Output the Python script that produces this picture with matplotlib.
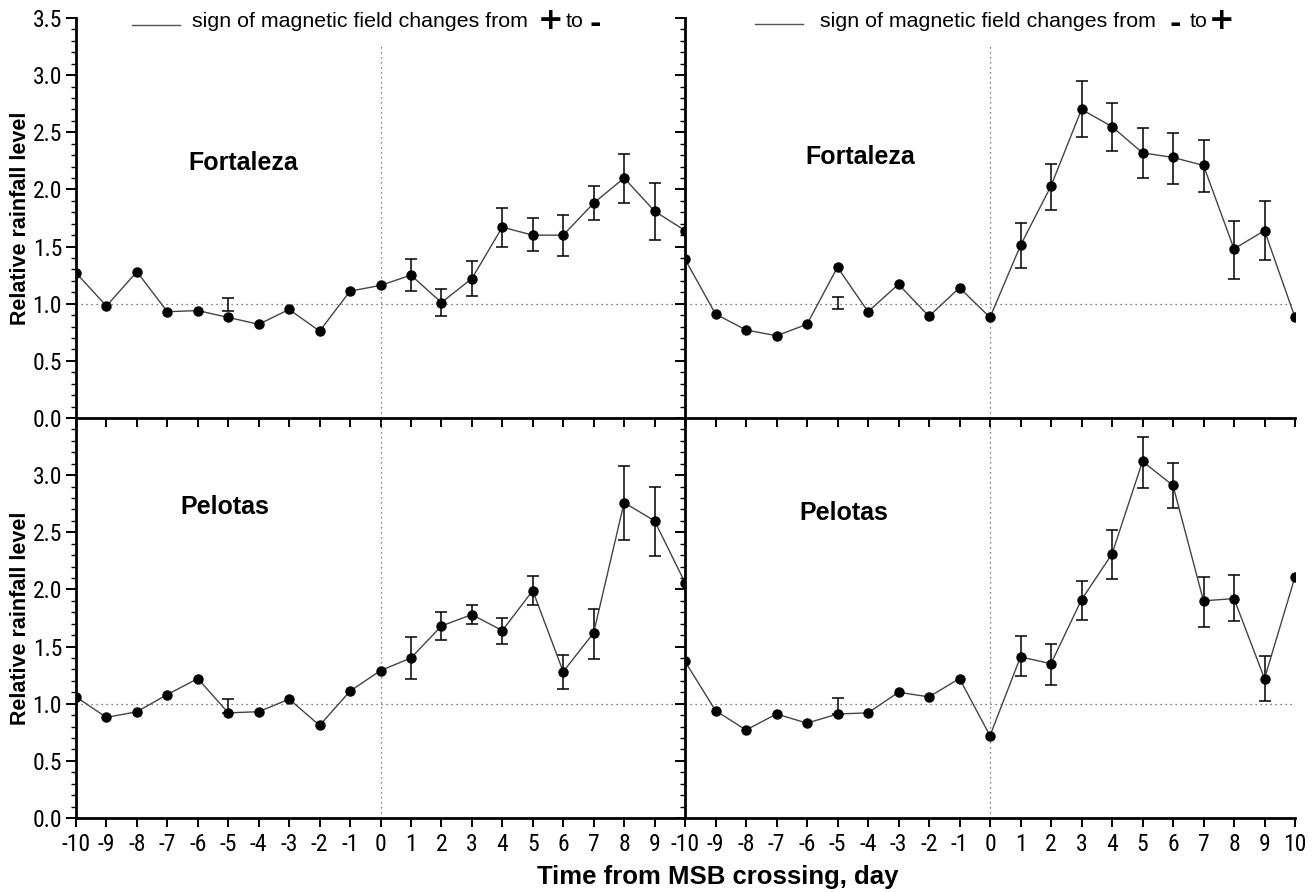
import numpy as np
import matplotlib
matplotlib.use("Agg")
from matplotlib import pyplot as plt
from matplotlib.ticker import MultipleLocator

plt.rcParams["font.family"] = ["Liberation Sans", "DejaVu Sans"]
TICKFONT = ["Roboto Condensed", "Liberation Sans", "DejaVu Sans"]

days = list(range(-10, 11))

# Fortaleza, sign changes + to -
fort_pm = [1.27, 0.98, 1.28, 0.93, 0.94, 0.88, 0.82, 0.95, 0.76, 1.11, 1.16,
           1.25, 1.01, 1.22, 1.67, 1.60, 1.60, 1.88, 2.10, 1.81, 1.64]
fort_pm_lo = [None, None, None, None, None, 0.94, None, None, None, None, None,
              1.11, 0.89, 1.07, 1.50, 1.46, 1.42, 1.73, 1.88, 1.56, None]
fort_pm_hi = [None, None, None, None, None, 1.05, None, None, None, None, None,
              1.39, 1.13, 1.37, 1.84, 1.75, 1.78, 2.03, 2.31, 2.06, None]

# Fortaleza, sign changes - to +
fort_mp = [1.39, 0.91, 0.77, 0.72, 0.82, 1.32, 0.93, 1.17, 0.89, 1.14, 0.88,
           1.51, 2.03, 2.70, 2.55, 2.32, 2.28, 2.21, 1.48, 1.64, 0.88]
fort_mp_lo = [None, None, None, None, None, 0.95, None, None, None, None, None,
              1.31, 1.82, 2.46, 2.34, 2.10, 2.05, 1.98, 1.22, 1.38, None]
fort_mp_hi = [None, None, None, None, None, 1.06, None, None, None, None, None,
              1.71, 2.22, 2.95, 2.76, 2.54, 2.49, 2.43, 1.72, 1.90, None]

# Pelotas, sign changes + to -
pel_pm = [1.06, 0.88, 0.93, 1.08, 1.22, 0.92, 0.93, 1.04, 0.81, 1.11, 1.29,
          1.40, 1.68, 1.78, 1.64, 1.99, 1.28, 1.62, 2.76, 2.60, 2.06]
pel_pm_lo = [None, None, None, None, None, 0.92, None, None, None, None, None,
             1.22, 1.56, 1.70, 1.52, 1.86, 1.13, 1.39, 2.43, 2.29, None]
pel_pm_hi = [None, None, None, None, None, 1.04, None, None, None, None, None,
             1.58, 1.80, 1.86, 1.75, 2.12, 1.43, 1.83, 3.08, 2.90, None]

# Pelotas, sign changes - to +
pel_mp = [1.37, 0.94, 0.77, 0.91, 0.83, 0.91, 0.92, 1.10, 1.06, 1.22, 0.72,
          1.41, 1.35, 1.91, 2.31, 3.12, 2.91, 1.90, 1.92, 1.22, 2.11]
pel_mp_lo = [None, None, None, None, None, 0.91, None, None, None, None, None,
             1.24, 1.16, 1.73, 2.09, 2.89, 2.71, 1.67, 1.72, 1.02, None]
pel_mp_hi = [None, None, None, None, None, 1.05, None, None, None, None, None,
             1.59, 1.52, 2.07, 2.52, 3.33, 3.11, 2.11, 2.13, 1.42, None]

W, H = 1312, 892
fig = plt.figure(figsize=(W / 100, H / 100), dpi=100)


def rect(x0, x1, ytop, ybot):
    return [x0 / W, 1 - ybot / H, (x1 - x0) / W, (ybot - ytop) / H]


def fx(x):
    return x / W


def fy(y):
    return 1 - y / H


def panel(r, vals, lo, hi, name, name_xy, left, bottom, vtop):
    ax = fig.add_axes(r)
    ax.set_facecolor("none")
    ax.set_xlim(-10, 10)
    ax.set_ylim(0, 3.5)
    for s in ["top", "right"]:
        ax.spines[s].set_visible(False)
    for s in ["left", "bottom"]:
        ax.spines[s].set_linewidth(2.0)
    # reference lines
    ax.axhline(1.0, color="#555555", lw=0.9, ls=(0, (1, 3)), zorder=1)
    ax.plot([0, 0], [0, vtop], color="#555555", lw=0.9, ls=(0, (1, 3)), zorder=1)
    # error bars
    xb = [d for d, a in zip(days, lo) if a is not None]
    lb = np.array([a for a in lo if a is not None])
    hb = np.array([b for b in hi if b is not None])
    ax.errorbar(xb, (lb + hb) / 2, yerr=(hb - lb) / 2, fmt="none",
                ecolor="black", elinewidth=1.1, capsize=4, capthick=1.1, zorder=2)
    ax.plot(days, vals, color="#444444", lw=1.0, marker="o", ms=6.5,
            mfc="black", mec="black", zorder=3)
    ax.text(name_xy[0], name_xy[1], name, fontsize=18, fontweight="bold",
            ha="center", va="center")
    # ticks
    ax.set_xticks(days)
    ax.tick_params(axis="x", which="major", direction="out", length=6.5,
                   width=1.4, pad=4)
    ax.yaxis.set_major_locator(MultipleLocator(0.5))
    ax.yaxis.set_minor_locator(MultipleLocator(0.1))
    ax.tick_params(axis="y", which="major", direction="out", length=7,
                   width=1.4, pad=3)
    ax.tick_params(axis="y", which="minor", direction="out", length=3.5, width=1.0)
    if bottom:
        labels = [str(d) for d in days]
        if left:
            labels[-1] = ""
        ax.set_xticklabels(labels, family=TICKFONT, fontsize=17)
    else:
        ax.set_xticklabels([])
    if left:
        ticks = np.arange(0, 3.51, 0.5)
        ax.set_yticks(ticks)
        ylabels = ["%.1f" % t for t in ticks]
        if bottom:
            ylabels[-1] = ""
        ax.set_yticklabels(ylabels, family=TICKFONT, fontsize=17)
        ax.set_ylabel("Relative rainfall level", fontsize=15.5, fontweight="bold",
                      labelpad=1)
    else:
        ax.set_yticklabels([])
    return ax


panel(rect(76, 685, 18, 418), fort_pm, fort_pm_lo, fort_pm_hi, "Fortaleza",
      (-4.5, 2.23), True, False, 3.27)
panel(rect(685, 1295, 18, 418), fort_mp, fort_mp_lo, fort_mp_hi, "Fortaleza",
      (-4.26, 2.28), False, False, 3.27)
panel(rect(76, 685, 418, 818), pel_pm, pel_pm_lo, pel_pm_hi, "Pelotas",
      (-5.1, 2.72), True, True, 3.5)
panel(rect(685, 1295, 418, 818), pel_mp, pel_mp_lo, pel_mp_hi, "Pelotas",
      (-4.8, 2.67), False, True, 3.5)

fig.text(fx(718), fy(884), "Time from MSB crossing, day", fontsize=18.5,
         fontweight="bold", ha="center", va="baseline")

# legend-like headers
base = 27
fig.add_artist(plt.Line2D([fx(132), fx(180)], [fy(25), fy(25)], color="#555555", lw=1.0))
fig.text(fx(192), fy(base), "sign of magnetic field changes from", fontsize=15.4,
         ha="left", va="baseline")
fig.text(fx(551), fy(20.5), "+", fontsize=22, fontweight="bold",
         family=["DejaVu Sans"], ha="center", va="center")
fig.text(fx(575), fy(base), "to", fontsize=15.4, ha="center", va="baseline")
fig.text(fx(595), fy(24), "-", fontsize=20, fontweight="bold",
         family=["DejaVu Sans"], ha="center", va="center")

fig.add_artist(plt.Line2D([fx(755), fx(803)], [fy(24), fy(24)], color="#555555", lw=1.0))
fig.text(fx(820), fy(base), "sign of magnetic field changes from", fontsize=15.4,
         ha="left", va="baseline")
fig.text(fx(1175), fy(24), "-", fontsize=20, fontweight="bold",
         family=["DejaVu Sans"], ha="center", va="center")
fig.text(fx(1199), fy(base), "to", fontsize=15.4, ha="center", va="baseline")
fig.text(fx(1222), fy(20.5), "+", fontsize=22, fontweight="bold",
         family=["DejaVu Sans"], ha="center", va="center")

fig.savefig("out.png", dpi=100)
